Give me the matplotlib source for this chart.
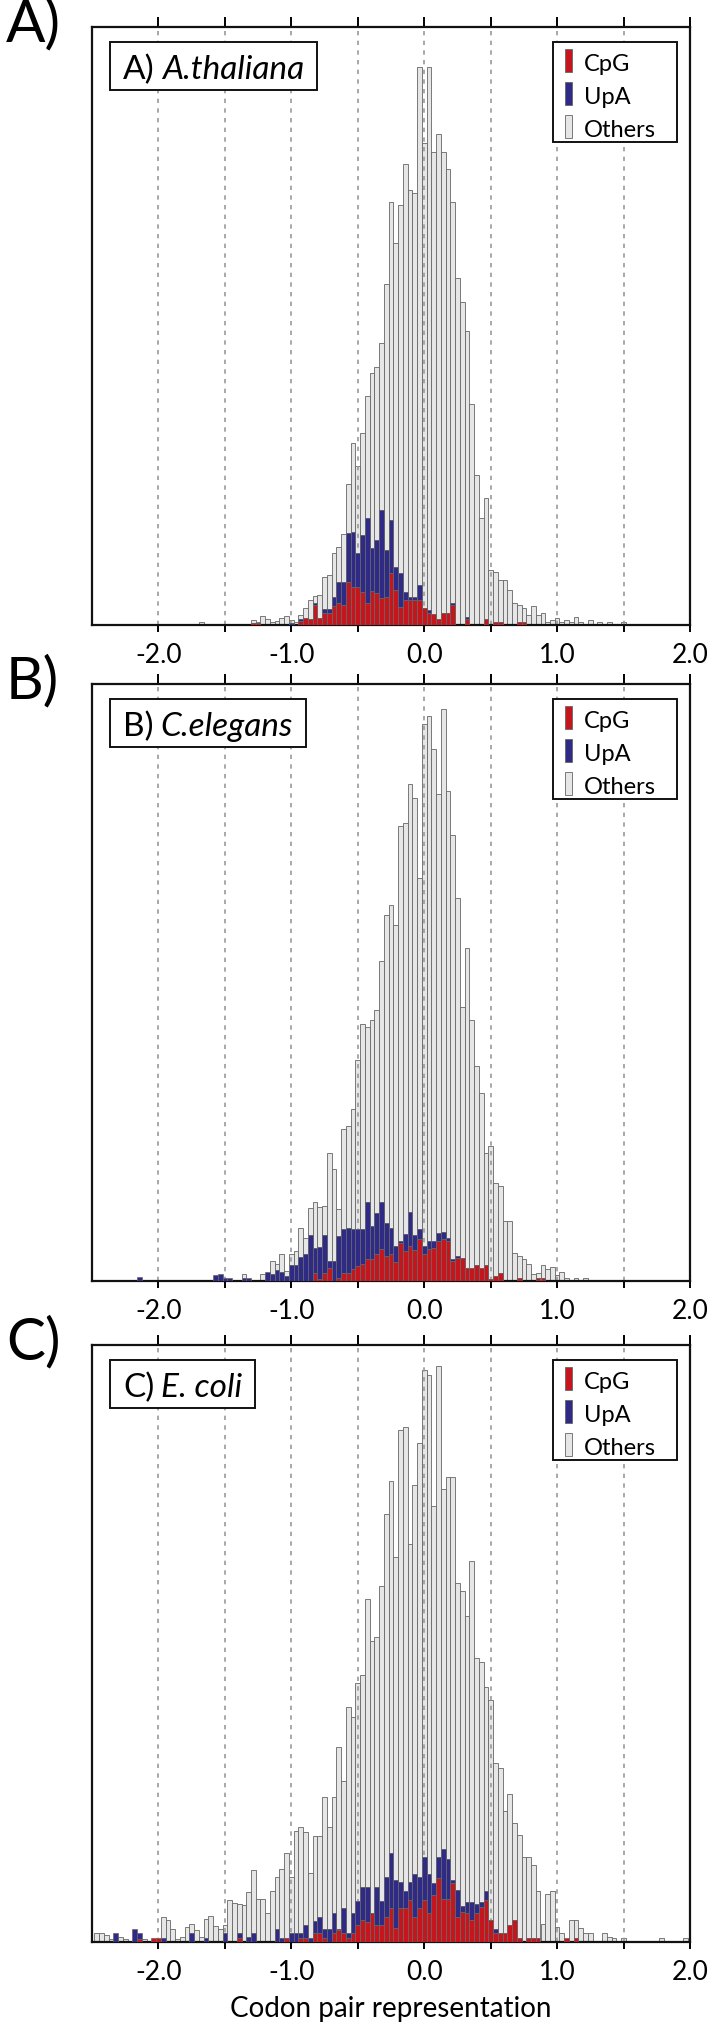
import numpy as np
import matplotlib
matplotlib.use('Agg')
import matplotlib.pyplot as plt
from matplotlib.patches import Rectangle

plt.rcParams['font.family'] = ['Lato', 'DejaVu Sans']

# histogram bins: width 1/28, centred on j/28 for j = -70 .. 56
bin_j = np.arange(-70, 57)

# ---------------- Panel A: A.thaliana ----------------
A_total = [
    0, 0, 0, 0, 0, 0, 0, 0, 0, 0,
    0, 0, 0, 0, 0, 0, 0, 0, 0, 0,
    0, 0, 0, 3, 0, 0, 0, 0, 0, 0,
    0, 0, 0, 0, 5, 3, 9, 6, 3, 4,
    7, 9, 5, 3, 10, 17, 25, 29, 30, 48,
    50, 72, 78, 91, 141, 182, 159, 192, 229, 252,
    258, 282, 341, 423, 382, 420, 461, 435, 432, 558,
    482, 558, 473, 491, 473, 456, 423, 347, 323, 294,
    221, 150, 107, 127, 55, 53, 45, 45, 35, 22,
    20, 17, 10, 19, 10, 12, 3, 5, 7, 3,
    5, 3, 8, 3, 0, 5, 0, 3, 0, 3,
    0, 0, 3, 0, 0, 0, 0, 0, 0, 0,
    0, 0, 0, 0, 0, 0, 0]
A_cpg = [
    0, 0, 0, 0, 0, 0, 0, 0, 0, 0,
    0, 0, 0, 0, 0, 0, 0, 0, 0, 0,
    0, 0, 0, 0, 0, 0, 0, 0, 0, 0,
    0, 0, 0, 0, 2, 2, 0, 0, 0, 0,
    0, 0, 0, 0, 4, 7, 6, 20, 7, 12,
    12, 19, 22, 20, 43, 38, 38, 33, 22, 34,
    32, 27, 28, 52, 35, 18, 25, 25, 25, 25,
    17, 12, 11, 6, 12, 12, 20, 0, 0, 6,
    0, 0, 0, 6, 0, 3, 3, 0, 0, 0,
    3, 3, 0, 0, 0, 0, 0, 0, 0, 0,
    0, 0, 0, 0, 0, 0, 0, 0, 0, 0,
    0, 0, 0, 0, 0, 0, 0, 0, 0, 0,
    0, 0, 0, 0, 0, 0, 0]
A_upa = [
    0, 0, 0, 0, 0, 0, 0, 0, 0, 0,
    0, 0, 0, 0, 0, 0, 0, 0, 0, 0,
    0, 0, 0, 0, 0, 0, 0, 0, 0, 0,
    0, 0, 0, 0, 0, 0, 0, 0, 0, 0,
    0, 0, 2, 0, 2, 0, 0, 2, 0, 4,
    4, 9, 21, 23, 49, 55, 34, 57, 85, 43,
    53, 88, 47, 53, 23, 34, 8, 3, 3, 15,
    0, 3, 0, 0, 0, 0, 2, 0, 0, 2,
    0, 0, 0, 0, 0, 0, 0, 0, 0, 0,
    0, 0, 0, 0, 0, 0, 0, 0, 0, 0,
    0, 0, 0, 0, 0, 0, 0, 0, 0, 0,
    0, 0, 0, 0, 0, 0, 0, 0, 0, 0,
    0, 0, 0, 0, 0, 0, 0]

# ---------------- Panel B: C.elegans ----------------
B_total = [
    0, 0, 0, 0, 0, 0, 0, 0, 0, 0,
    4, 0, 0, 0, 0, 0, 0, 0, 0, 0,
    0, 0, 0, 0, 0, 0, 6, 7, 3, 3,
    0, 0, 7, 3, 0, 0, 7, 9, 20, 17,
    27, 10, 27, 30, 53, 43, 73, 79, 74, 75,
    128, 112, 72, 152, 155, 172, 221, 257, 254, 261,
    271, 320, 366, 376, 356, 455, 458, 497, 483, 403,
    557, 565, 532, 487, 572, 490, 446, 383, 274, 333,
    261, 215, 188, 128, 135, 98, 95, 60, 60, 28,
    25, 22, 17, 7, 8, 16, 12, 14, 6, 9,
    3, 0, 3, 0, 3, 0, 0, 0, 0, 0,
    0, 0, 0, 0, 0, 0, 0, 0, 0, 0,
    0, 0, 0, 0, 0, 0, 0]
B_cpg = [
    0, 0, 0, 0, 0, 0, 0, 0, 0, 0,
    0, 0, 0, 0, 0, 0, 0, 0, 0, 0,
    0, 0, 0, 0, 0, 0, 0, 0, 0, 0,
    0, 0, 0, 0, 0, 0, 0, 0, 0, 0,
    0, 0, 0, 0, 0, 0, 0, 8, 2, 8,
    13, 0, 3, 8, 8, 12, 15, 17, 22, 22,
    27, 32, 25, 27, 19, 38, 30, 35, 31, 42,
    27, 32, 33, 40, 42, 40, 20, 23, 23, 13,
    13, 16, 13, 16, 2, 5, 8, 0, 0, 0,
    3, 0, 0, 0, 3, 3, 0, 0, 0, 0,
    0, 0, 0, 0, 0, 0, 0, 0, 0, 0,
    0, 0, 0, 0, 0, 0, 0, 0, 0, 0,
    0, 0, 0, 0, 0, 0, 0]
B_upa = [
    0, 0, 0, 0, 0, 0, 0, 0, 0, 0,
    4, 0, 0, 0, 0, 0, 0, 0, 0, 0,
    0, 0, 0, 0, 0, 0, 6, 7, 3, 3,
    0, 0, 3, 3, 0, 0, 0, 9, 7, 11,
    9, 5, 16, 16, 24, 27, 46, 25, 32, 38,
    7, 20, 42, 44, 45, 40, 37, 35, 57, 33,
    41, 47, 33, 26, 16, 2, 17, 34, 15, 10,
    8, 8, 7, 8, 7, 3, 2, 2, 0, 0,
    0, 0, 0, 0, 0, 0, 0, 0, 0, 0,
    0, 0, 0, 0, 0, 0, 0, 0, 0, 0,
    0, 0, 0, 0, 0, 0, 0, 0, 0, 0,
    0, 0, 0, 0, 0, 0, 0, 0, 0, 0,
    0, 0, 0, 0, 0, 0, 0]

# ---------------- Panel C: E. coli ----------------
C_total = [
    0, 9, 9, 7, 3, 9, 5, 3, 0, 13,
    9, 3, 0, 4, 4, 25, 22, 13, 3, 5,
    15, 18, 12, 5, 23, 26, 16, 13, 17, 42,
    39, 38, 37, 50, 72, 43, 43, 29, 51, 65,
    73, 89, 65, 111, 115, 110, 69, 106, 106, 145,
    115, 145, 195, 161, 235, 225, 259, 267, 343, 301,
    305, 356, 428, 461, 385, 512, 515, 398, 457, 499,
    572, 567, 436, 576, 453, 465, 465, 359, 351, 326,
    381, 284, 280, 255, 242, 179, 174, 131, 148, 119,
    107, 85, 85, 77, 51, 18, 48, 51, 15, 9,
    4, 22, 22, 14, 9, 9, 0, 0, 9, 5,
    4, 0, 4, 0, 0, 0, 0, 0, 0, 0,
    4, 0, 0, 0, 0, 4, 0]
C_cpg = [
    0, 0, 0, 0, 0, 0, 0, 0, 0, 0,
    3, 0, 0, 4, 4, 0, 0, 0, 0, 0,
    0, 0, 0, 0, 0, 0, 0, 0, 0, 0,
    0, 4, 0, 0, 0, 0, 0, 0, 0, 0,
    0, 4, 0, 0, 4, 4, 0, 9, 9, 4,
    0, 9, 12, 9, 4, 9, 17, 22, 20, 29,
    17, 17, 25, 34, 14, 34, 34, 42, 25, 34,
    42, 29, 47, 64, 43, 43, 59, 25, 30, 29,
    22, 29, 35, 42, 22, 9, 9, 9, 17, 22,
    4, 0, 4, 4, 4, 0, 0, 0, 0, 0,
    4, 0, 4, 0, 0, 0, 0, 0, 0, 0,
    0, 0, 0, 0, 0, 0, 0, 0, 0, 0,
    0, 0, 0, 0, 0, 0, 0]
C_upa = [
    0, 0, 0, 0, 0, 9, 0, 0, 0, 13,
    6, 0, 0, 0, 0, 4, 0, 0, 0, 0,
    0, 9, 0, 0, 4, 0, 0, 0, 9, 0,
    0, 5, 0, 5, 9, 0, 0, 0, 0, 13,
    4, 0, 9, 9, 5, 13, 4, 12, 16, 9,
    13, 20, 1, 25, 5, 20, 24, 33, 35, 0,
    38, 24, 40, 55, 48, 26, 17, 18, 43, 31,
    43, 39, 12, 21, 50, 40, 3, 27, 6, 11,
    18, 9, 5, 9, 0, 4, 0, 0, 0, 0,
    0, 0, 0, 0, 0, 0, 0, 0, 0, 0,
    0, 0, 0, 0, 0, 0, 0, 0, 0, 0,
    0, 0, 0, 0, 0, 0, 0, 0, 0, 0,
    0, 0, 0, 0, 0, 0, 0]

panel_letters = ['A)', 'B)', 'C)']
panel_prefix = ['A)', 'B)', 'C)']
species_names = ['A.thaliana', 'C.elegans', 'E. coli']
legend_labels = ['CpG', 'UpA', 'Others']
tick_values = [-2.0, -1.5, -1.0, -0.5, 0.0, 0.5, 1.0, 1.5, 2.0]
tick_labels = ['-2.0', '', '-1.0', '', '0.0', '', '1.0', '', '2.0']
x_label = 'Codon pair representation'

COL_CPG = '#c4161c'
COL_UPA = '#2e2a85'
COL_OTH = '#e6e6e6'
COL_EDGE = '#666666'

W, H = 711, 2026
fig = plt.figure(figsize=(W / 100, H / 100), dpi=100)
renderer = fig.canvas.get_renderer()

ax_left, ax_right = 92, 690
AXW = ax_right - ax_left
panel_px = [(27, 625), (684, 1281), (1345, 1942)]
data = [(A_total, A_cpg, A_upa), (B_total, B_cpg, B_upa), (C_total, C_cpg, C_upa)]

centers = bin_j / 28.0
bw = 1 / 28.0

for p, ((top, bot), (tot, cpg, upa)) in enumerate(zip(panel_px, data)):
    AXH = bot - top
    ax = fig.add_axes([ax_left / W, 1 - bot / H, AXW / W, AXH / H])
    tot = np.array(tot, float)
    cpg = np.array(cpg, float)
    upa = np.array(upa, float)
    oth = np.maximum(tot - cpg - upa, 0)

    m = cpg > 0
    ax.bar(centers[m], cpg[m], width=bw, color=COL_CPG, edgecolor=COL_EDGE, linewidth=0.5, zorder=3)
    m = upa > 0
    ax.bar(centers[m], upa[m], width=bw, bottom=cpg[m], color=COL_UPA, edgecolor=COL_EDGE,
           linewidth=0.5, zorder=3)
    m = oth > 0
    ax.bar(centers[m], oth[m], width=bw, bottom=(cpg + upa)[m], color=COL_OTH, edgecolor=COL_EDGE,
           linewidth=0.6, zorder=1)

    for v in tick_values[:-1]:
        ax.axvline(v, color='#999999', lw=1.2, ls=(0, (2.6, 3.2)), zorder=2)

    ax.set_xlim(-2.5, 2.0)
    ax.set_ylim(0, AXH)
    ax.set_yticks([])
    ax.set_xticks(tick_values)
    ax.set_xticklabels(tick_labels)
    ax.tick_params(axis='x', direction='out', length=5.3, width=1.4, top=True, labeltop=False,
                   labelsize=19, pad=8, colors='black')
    for t in ax.xaxis.get_major_ticks():
        t.tick2line.set_markersize(7)
    for s in ax.spines.values():
        s.set_linewidth(1.6)
        s.set_color('#111111')

    # title box: upright prefix + italic species name; box width follows the text
    inv = ax.transAxes.inverted()
    box_top, box_bot = 15, 63
    ybase = 1 - 52 / AXH
    t1 = ax.text(31 / AXW, ybase, panel_prefix[p], transform=ax.transAxes, ha='left',
                 va='baseline', fontsize=24, zorder=6)
    b1 = t1.get_window_extent(renderer)
    xs = inv.transform((b1.x1, b1.y0))[0] + 7 / AXW
    t2 = ax.text(xs, ybase, species_names[p], transform=ax.transAxes, ha='left',
                 va='baseline', fontsize=24, fontstyle='italic', zorder=6)
    b2 = t2.get_window_extent(renderer)
    xe = inv.transform((b2.x1, b2.y0))[0]
    ax.add_patch(Rectangle((18 / AXW, 1 - box_bot / AXH), xe - 18 / AXW + 13 / AXW,
                           (box_bot - box_top) / AXH, transform=ax.transAxes, fc='white',
                           ec='#111111', lw=1.4, zorder=5))

    # legend box
    ax.add_patch(Rectangle((461 / AXW, 1 - 115 / AXH), 124 / AXW, 100 / AXH, transform=ax.transAxes,
                           fc='white', ec='#111111', lw=1.4, zorder=5))
    for k, (lab, col) in enumerate(zip(legend_labels, [COL_CPG, COL_UPA, COL_OTH])):
        yc = 34 + 33 * k
        ax.add_patch(Rectangle((473 / AXW, 1 - (yc + 11.5) / AXH), 7 / AXW, 23 / AXH,
                               transform=ax.transAxes, fc=col, ec=COL_EDGE, lw=0.6, zorder=6))
        ax.text(492 / AXW, 1 - (yc + 10) / AXH, lab, transform=ax.transAxes, ha='left',
                va='baseline', fontsize=17, zorder=6)

    fig.text(6 / W, 1 - (top - 29) / H, panel_letters[p], fontsize=42, ha='left', va='top')

fig.text((ax_left + ax_right) / 2 / W, 1 - 2017 / H, x_label, fontsize=20, ha='center', va='baseline')

fig.savefig('out.png', dpi=100)
